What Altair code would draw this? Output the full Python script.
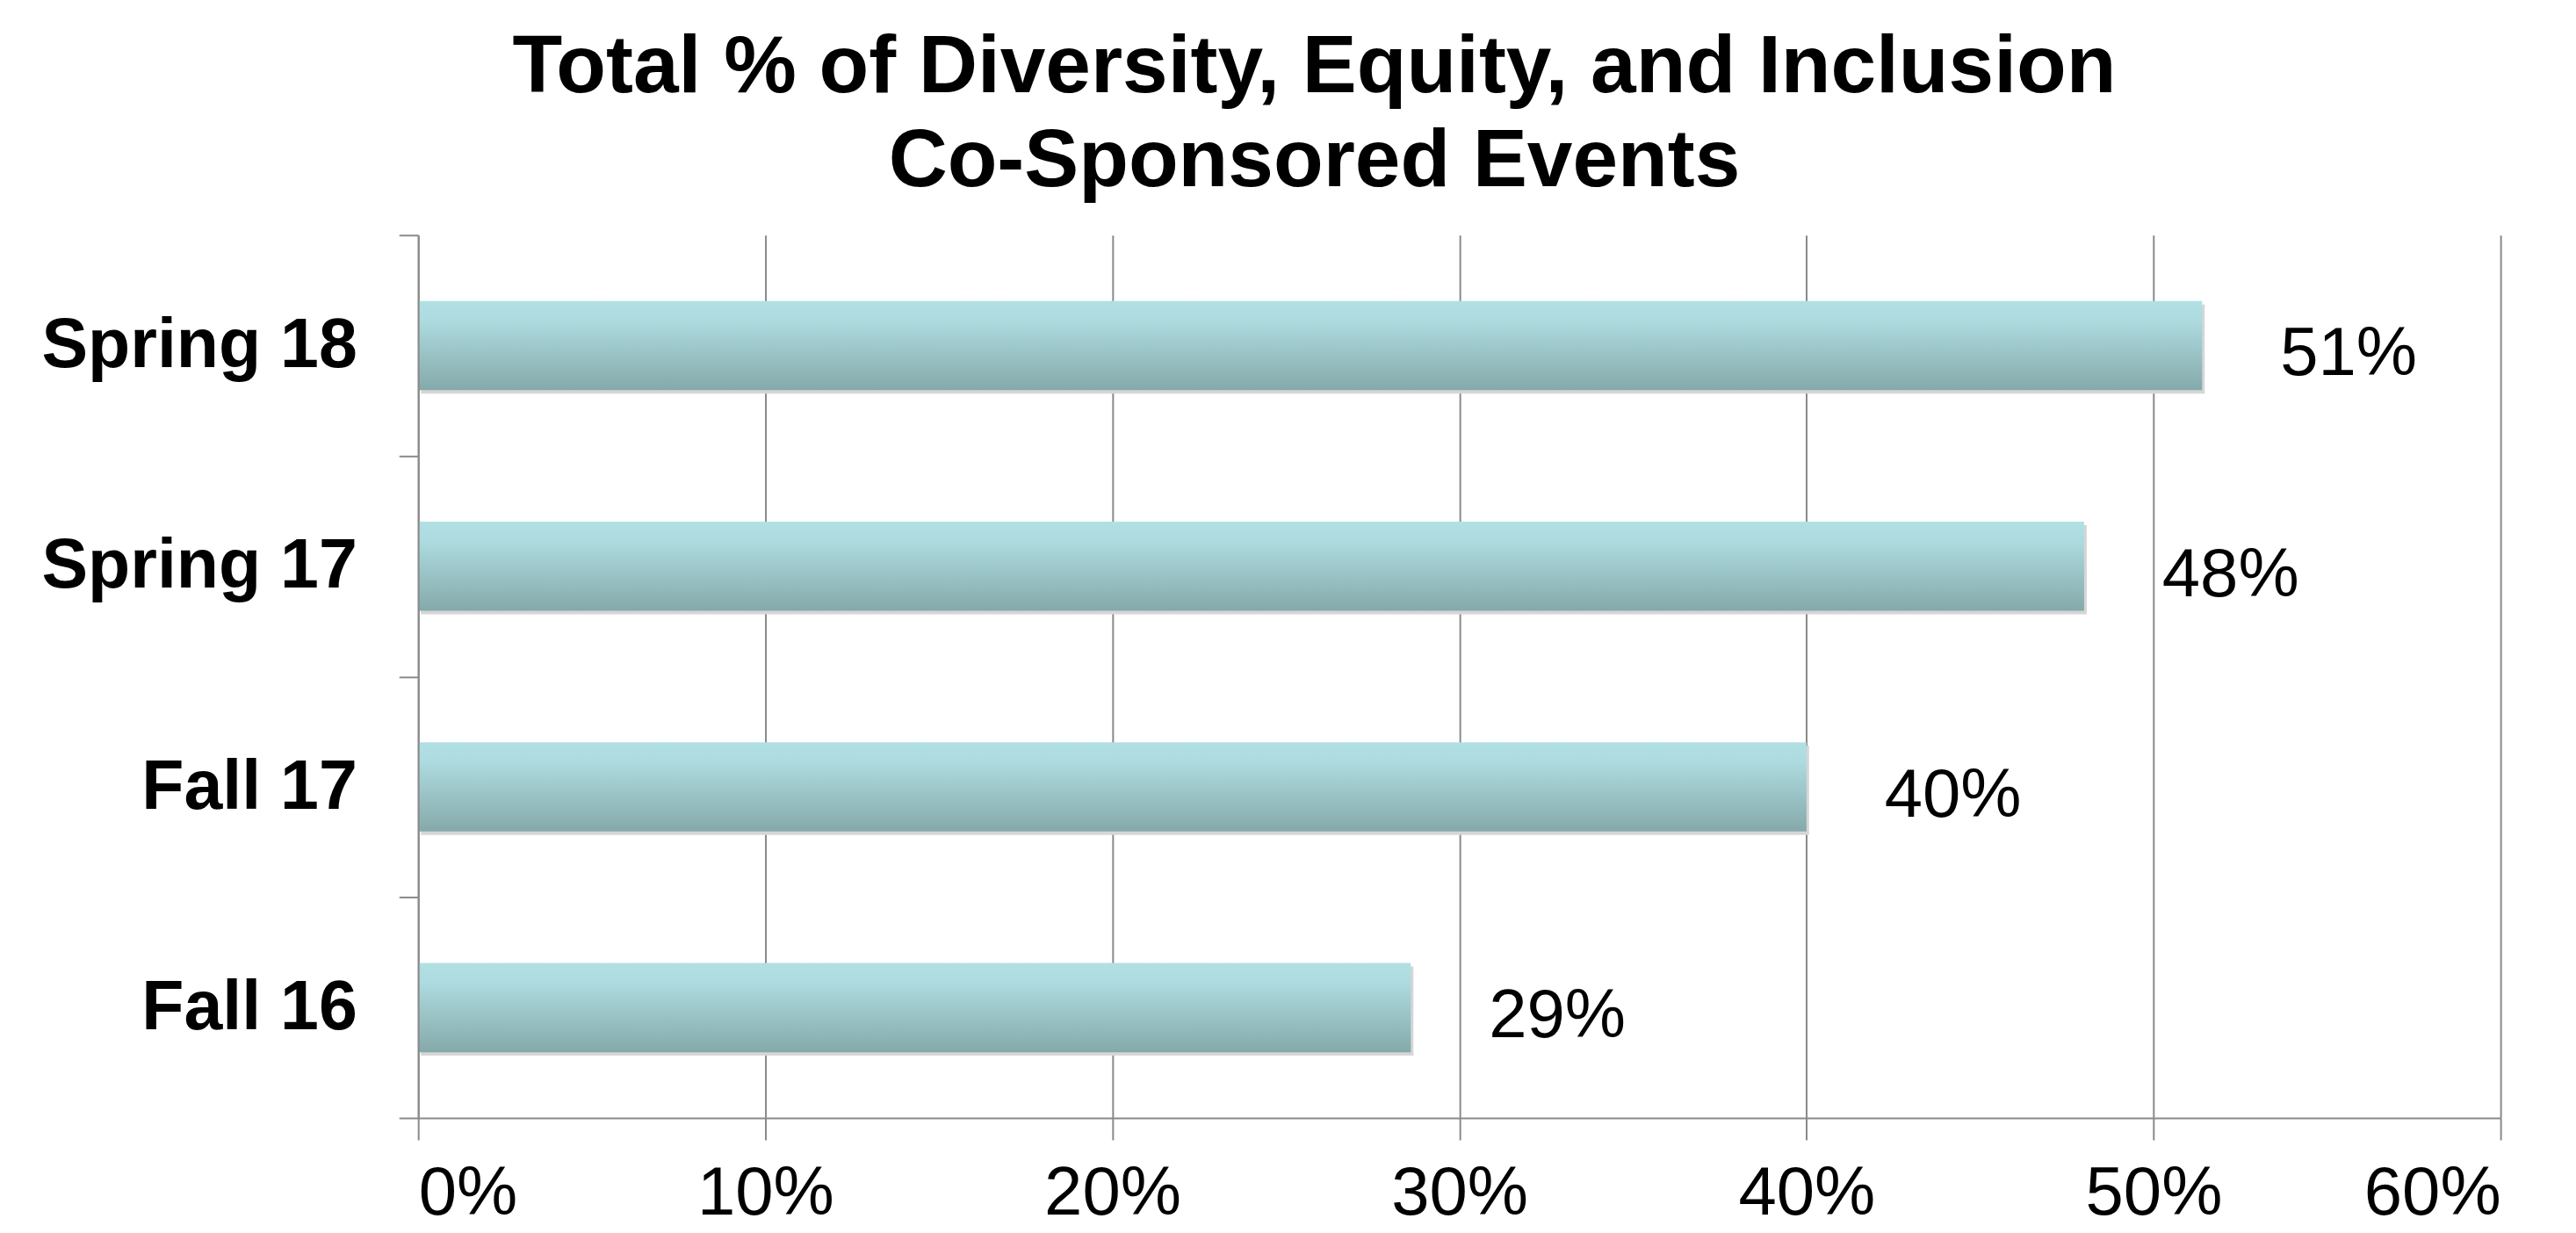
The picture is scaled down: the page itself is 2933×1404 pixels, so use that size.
import altair as alt
import pandas as pd

terms = ["Spring 18", "Spring 17", "Fall 17", "Fall 16"]
shares = [51.4, 48.0, 40.0, 28.6]
share_labels = ["51%", "48%", "40%", "29%"]
x_ticks = [0, 10, 20, 30, 40, 50, 60]
title_lines = ["Total % of Diversity, Equity, and Inclusion", "Co-Sponsored Events"]

df = pd.DataFrame({"term": terms, "share": shares, "label": share_labels})

FONT = "Liberation Sans"
GRID = "#8a8a8a"

y_enc = alt.Y(
    "term:N",
    sort=terms,
    title=None,
    scale=alt.Scale(paddingInner=0, paddingOuter=0),
    axis=alt.Axis(
        tickBand="extent",
        labelFontSize=79,
        labelFontWeight="bold",
        labelFont=FONT,
        labelColor="black",
        labelPadding=48,
        labelLimit=0,
        tickSize=22,
        tickColor=GRID,
        tickWidth=2,
        domainColor=GRID,
        domainWidth=2,
        grid=False,
        zindex=1,
    ),
)
x_enc = alt.X(
    "share:Q",
    title=None,
    scale=alt.Scale(domain=[0, 60], nice=False),
    axis=alt.Axis(
        values=x_ticks,
        labelExpr="datum.value + '%'",
        labelFontSize=78,
        labelFont=FONT,
        labelColor="black",
        labelPadding=23,
        labelLimit=0,
        tickSize=25,
        tickColor=GRID,
        tickWidth=2,
        domainColor=GRID,
        domainWidth=2,
        grid=True,
        gridColor=GRID,
        gridWidth=2,
        gridOpacity=1,
    ),
)

base = alt.Chart(df)

shadow = base.mark_bar(
    color="#d6d6d6", yOffset=4, xOffset=3, height=alt.RelativeBandSize(0.404)
).encode(x=x_enc, y=y_enc)

bars = base.mark_bar(
    height=alt.RelativeBandSize(0.404),
    color=alt.Gradient(
        gradient="linear",
        stops=[
            alt.GradientStop(color="#b1e0e4", offset=0),
            alt.GradientStop(color="#addbdf", offset=0.22),
            alt.GradientStop(color="#85a9aa", offset=1),
        ],
        x1=0, x2=0, y1=0, y2=1,
    ),
).encode(x=x_enc, y=y_enc)

text = base.mark_text(
    align="left", baseline="middle", dx=89, dy=11, fontSize=78, font=FONT, color="black"
).encode(x=x_enc, y=y_enc, text="label:N")

chart = (
    alt.layer(shadow, bars, text)
    .properties(
        width=2375,
        height=1007,
        title=alt.Title(
            title_lines,
            fontSize=93,
            font=FONT,
            fontWeight="bold",
            lineHeight=107,
            anchor="middle",
            frame="bounds",
            offset=-3,
            dx=49,
            color="black",
        ),
        padding={"left": 469, "top": 259, "right": 78, "bottom": 122},
        autosize=alt.AutoSizeParams(type="none"),
        background="white",
    )
    .configure_view(stroke=None)
)

chart.save("out.html", embed_options={"renderer": "svg", "actions": False})
